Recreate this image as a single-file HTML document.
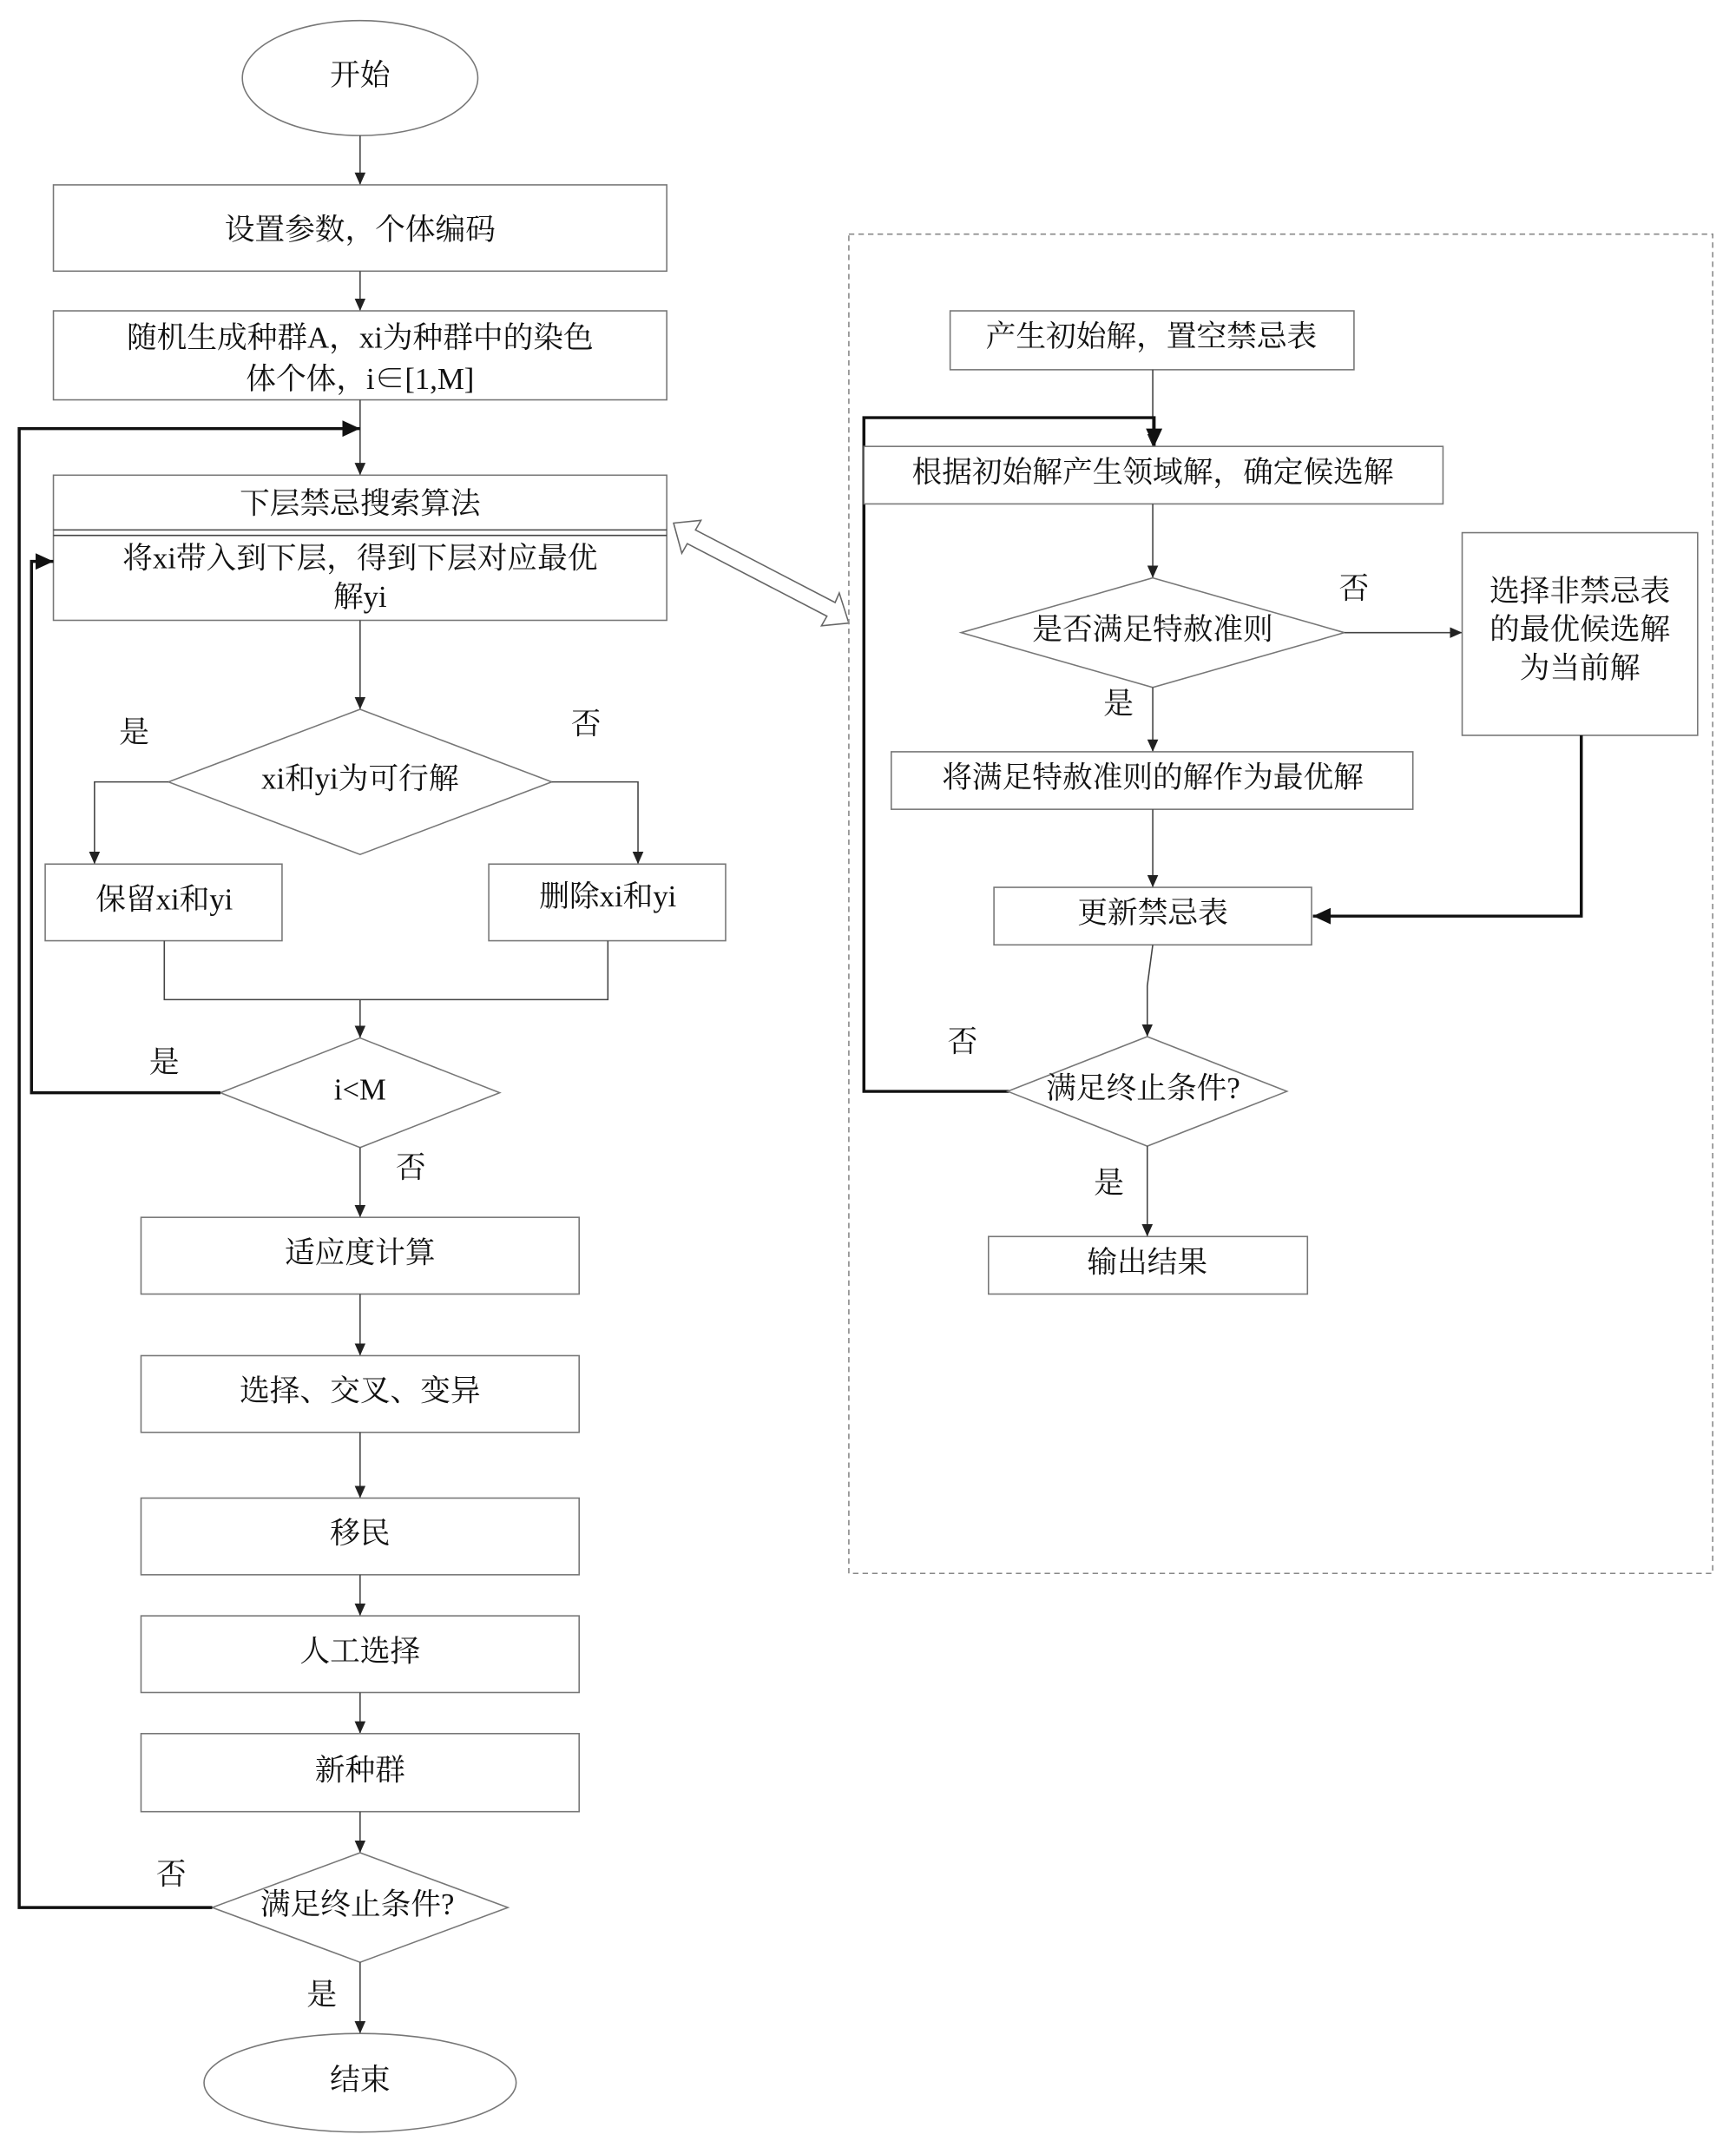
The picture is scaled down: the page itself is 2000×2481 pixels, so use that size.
<!DOCTYPE html>
<html><head><meta charset="utf-8"><style>
html,body{margin:0;padding:0;background:#fff}
svg{display:block}
text{font-family:"Liberation Serif","Noto Serif CJK SC",serif;font-size:22px;fill:#111;text-anchor:middle;dominant-baseline:middle}
.b{fill:#fff;stroke:#777;stroke-width:1}
.l{stroke:#444;stroke-width:1;fill:none}
.t{stroke:#111;stroke-width:2.2;fill:none}
</style></head><body>
<svg width="2000" height="2481" viewBox="0 0 1268 1573" xmlns="http://www.w3.org/2000/svg">
<defs>
<marker id="a" markerWidth="10" markerHeight="10" refX="9" refY="5" orient="auto" markerUnits="userSpaceOnUse"><path d="M0,1 L9,5 L0,9 z" fill="#222"/></marker>
<marker id="A" markerWidth="14" markerHeight="14" refX="13" refY="7" orient="auto" markerUnits="userSpaceOnUse"><path d="M0,1 L13,7 L0,13 z" fill="#111"/></marker>
</defs>
<!-- left column -->
<ellipse class="b" cx="263" cy="57" rx="86" ry="42"/><text x="263" y="57">开始</text>
<line class="l" x1="263" y1="99" x2="263" y2="135" marker-end="url(#a)"/>
<rect class="b" x="39" y="135" width="448" height="63"/><text x="263" y="170">设置参数，个体编码</text>
<line class="l" x1="263" y1="198" x2="263" y2="227" marker-end="url(#a)"/>
<rect class="b" x="39" y="227" width="448" height="65"/><text x="263" y="249">随机生成种群A，xi为种群中的染色</text><text x="263" y="279">体个体，i∈[1,M]</text>
<line class="l" x1="263" y1="292" x2="263" y2="347" marker-end="url(#a)"/>
<rect class="b" x="39" y="347" width="448" height="106"/>
<line class="l" x1="39" y1="387" x2="487" y2="387"/><line class="l" x1="39" y1="391" x2="487" y2="391"/>
<text x="263" y="370">下层禁忌搜索算法</text><text x="263" y="410">将xi带入到下层，得到下层对应最优</text><text x="263" y="438">解yi</text>
<line class="l" x1="263" y1="453" x2="263" y2="518" marker-end="url(#a)"/>
<polygon class="b" points="263,518 403,571 263,624 123,571"/><text x="263" y="571">xi和yi为可行解</text>
<text x="98" y="537">是</text><text x="428" y="531">否</text>
<polyline class="l" points="123,571 69,571 69,631" marker-end="url(#a)"/>
<polyline class="l" points="403,571 466,571 466,631" marker-end="url(#a)"/>
<rect class="b" x="33" y="631" width="173" height="56"/><text x="120" y="659">保留xi和yi</text>
<rect class="b" x="357" y="631" width="173" height="56"/><text x="444" y="657">删除xi和yi</text>
<polyline class="l" points="120,687 120,730 444,730 444,687"/>
<line class="l" x1="263" y1="730" x2="263" y2="758" marker-end="url(#a)"/>
<polygon class="b" points="263,758 365,798 263,838 161,798"/><text x="263" y="798">i&lt;M</text>
<text x="120" y="778">是</text><text x="300" y="855">否</text>
<polyline class="t" points="161,798 23,798 23,410 39,410" marker-end="url(#A)"/>
<line class="l" x1="263" y1="838" x2="263" y2="889" marker-end="url(#a)"/>
<rect class="b" x="103" y="889" width="320" height="56"/><text x="263" y="917">适应度计算</text>
<line class="l" x1="263" y1="945" x2="263" y2="990" marker-end="url(#a)"/>
<rect class="b" x="103" y="990" width="320" height="56"/><text x="263" y="1018">选择、交叉、变异</text>
<line class="l" x1="263" y1="1046" x2="263" y2="1094" marker-end="url(#a)"/>
<rect class="b" x="103" y="1094" width="320" height="56"/><text x="263" y="1122">移民</text>
<line class="l" x1="263" y1="1150" x2="263" y2="1180" marker-end="url(#a)"/>
<rect class="b" x="103" y="1180" width="320" height="56"/><text x="263" y="1208">人工选择</text>
<line class="l" x1="263" y1="1236" x2="263" y2="1266" marker-end="url(#a)"/>
<rect class="b" x="103" y="1266" width="320" height="57"/><text x="263" y="1295">新种群</text>
<line class="l" x1="263" y1="1323" x2="263" y2="1353" marker-end="url(#a)"/>
<polygon class="b" points="263,1353 371,1393 263,1433 155,1393"/><text x="261" y="1393">满足终止条件?</text>
<text x="125" y="1371">否</text><text x="235" y="1459">是</text>
<polyline class="t" points="155,1393 14,1393 14,313 263,313" marker-end="url(#A)"/>
<line class="l" x1="263" y1="1433" x2="263" y2="1485" marker-end="url(#a)"/>
<ellipse class="b" cx="263" cy="1521" rx="114" ry="36"/><text x="263" y="1521">结束</text>
<!-- double hollow arrow -->
<polygon fill="#fff" stroke="#666" stroke-width="1" points="492,382 512,380 508,387 610,440 613,433 620,455 600,457 604,450 502,397 498,404"/>
<!-- right panel -->
<rect x="620" y="171" width="631" height="978" fill="none" stroke="#888" stroke-width="1" stroke-dasharray="4,3"/>
<rect class="b" x="694" y="227" width="295" height="43"/><text x="841" y="248">产生初始解，置空禁忌表</text>
<line class="l" x1="842" y1="270" x2="842" y2="326" marker-end="url(#a)"/>
<polyline class="t" points="737,797 631,797 631,305 843,305 843,326" marker-end="url(#A)"/>
<rect class="b" x="631" y="326" width="423" height="42"/><text x="842" y="347">根据初始解产生领域解，确定候选解</text>
<line class="l" x1="842" y1="368" x2="842" y2="422" marker-end="url(#a)"/>
<polygon class="b" points="842,422 982,462 842,502 702,462"/><text x="842" y="462">是否满足特赦准则</text>
<text x="989" y="432">否</text><text x="817" y="516">是</text>
<line class="l" x1="982" y1="462" x2="1068" y2="462" marker-end="url(#a)"/>
<rect class="b" x="1068" y="389" width="172" height="148"/><text x="1154" y="434">选择非禁忌表</text><text x="1154" y="462">的最优候选解</text><text x="1154" y="490">为当前解</text>
<polyline class="t" points="1155,537 1155,669 959,669" marker-end="url(#A)"/>
<line class="l" x1="842" y1="502" x2="842" y2="549" marker-end="url(#a)"/>
<rect class="b" x="651" y="549" width="381" height="42"/><text x="842" y="570">将满足特赦准则的解作为最优解</text>
<line class="l" x1="842" y1="591" x2="842" y2="648" marker-end="url(#a)"/>
<rect class="b" x="726" y="648" width="232" height="42"/><text x="842" y="669">更新禁忌表</text>
<polyline class="l" points="842,690 838,720 838,757" marker-end="url(#a)"/>
<polygon class="b" points="838,757 940,797 838,837 736,797"/><text x="835" y="797">满足终止条件?</text>
<text x="703" y="763">否</text><text x="810" y="866">是</text>
<line class="l" x1="838" y1="837" x2="838" y2="903" marker-end="url(#a)"/>
<rect class="b" x="722" y="903" width="233" height="42"/><text x="838" y="924">输出结果</text>
</svg>
</body></html>
